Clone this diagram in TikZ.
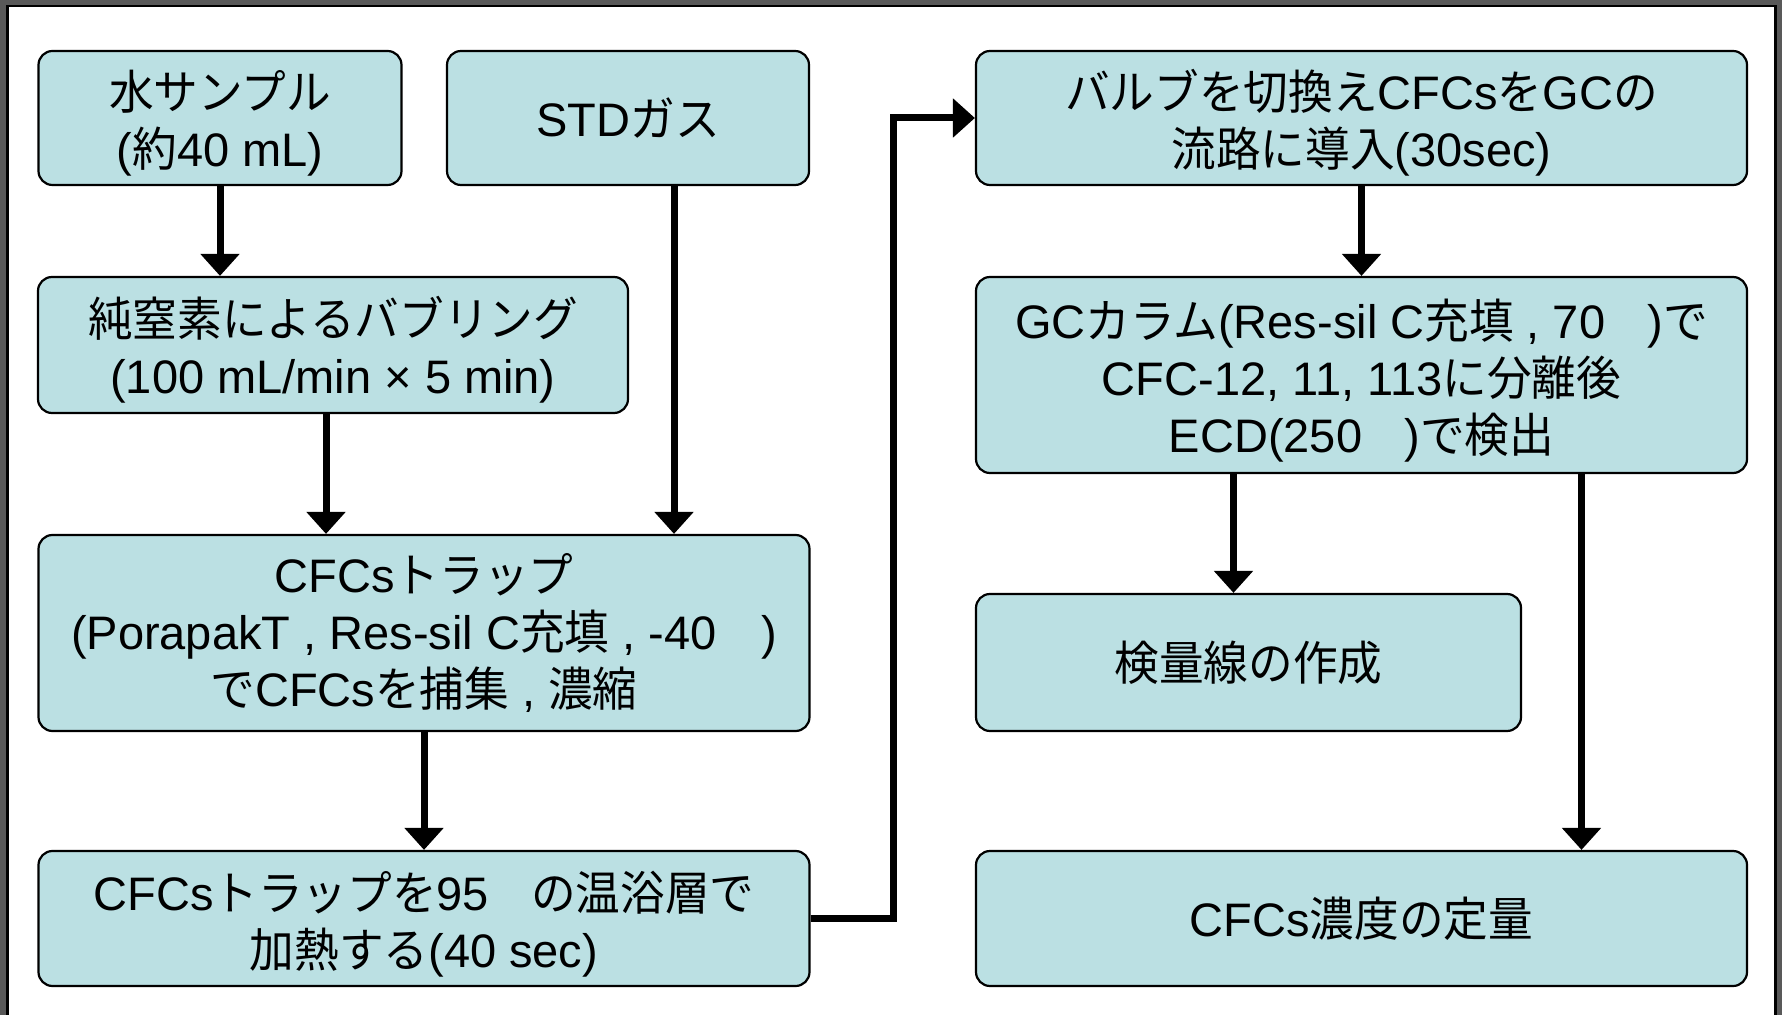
\documentclass[tikz,border=0pt]{standalone}
\usepackage{fontspec}
\setmainfont{Liberation Sans}
\newfontfamily\jp[FakeStretch=0.95]{Noto Sans CJK JP}
\usetikzlibrary{arrows.meta}
\definecolor{boxfill}{HTML}{BBE0E3}
\definecolor{framegray}{HTML}{595959}
\newcommand\boxstrut{\rule{0pt}{25pt}}

\begin{document}
\begin{tikzpicture}[x=0.5pt,y=-0.5pt,>={Triangle[width=19pt,length=11pt]},line join=miter]
        \tikzstyle{stage}=[rectangle,rounded corners=7pt,draw=black,line width=1.1pt,fill=boxfill,align=center,inner sep=0pt,font=\fontsize{23.5}{28.5}\selectfont]
        \tikzstyle{flow}=[->,line width=3.5pt]
        \useasboundingbox (0,0) rectangle (1782,1015);
        \fill [framegray] (0,0) rectangle (1782,1015);
        \draw [fill=white,line width=1.3pt] (7.5,6) rectangle (1775.5,1030);

        % left column
        \node [stage, minimum width=181.5pt, minimum height=67pt] (water) at (220,118)
            {\boxstrut{\jp 水サンプル}\\({\jp 約}40 mL)};
        \node [stage, minimum width=181pt, minimum height=67pt] (std) at (628,118)
            {STD{\jp ガス}};
        \node [stage, minimum width=295pt, minimum height=68pt] (bubble) at (333,345)
            {\boxstrut{\jp 純窒素によるバブリング}\\(100 mL/min × 5 min)};
        \node [stage, minimum width=385.5pt, minimum height=98pt] (trap) at (424,633)
            {CFCs{\jp トラップ}\\(PorapakT , Res-sil C{\jp 充填} , -40\hspace{0.95em})\\{\jp で}CFCs{\jp を捕集} , {\jp 濃縮}};
        \node [stage, minimum width=385.5pt, minimum height=67.5pt] (heat) at (424,918.5)
            {\boxstrut CFCs{\jp トラップを}95\hspace{0.9em}{\jp の温浴層で}\\{\jp 加熱する}(40 sec)};

        % right column
        \node [stage, minimum width=385.5pt, minimum height=67pt] (valve) at (1361.5,118)
            {\boxstrut{\jp バルブを切換え}CFCs{\jp を}GC{\jp の}\\{\jp 流路に導入}(30sec)};
        \node [stage, minimum width=385.5pt, minimum height=98pt] (column) at (1361.5,375)
            {\boxstrut GC{\jp カラム}(Res-sil C{\jp 充填} , 70\hspace{0.9em}){\jp で}\\CFC-12, 11, 113{\jp に分離後}\\ECD(250\hspace{0.9em}){\jp で検出}};
        \node [stage, minimum width=272.5pt, minimum height=68.5pt] (calib) at (1248.5,662.5)
            {{\jp 検量線の作成}};
        \node [stage, minimum width=385.5pt, minimum height=67.5pt] (quant) at (1361.5,918.5)
            {CFCs{\jp 濃度の定量}};

        \coordinate (trap in) at ([xshift=-3.5pt]bubble.south);
        \coordinate (std out) at ([xshift=23pt]std.south);
        \coordinate (calib in) at ([xshift=-7.5pt]calib.north);
        \coordinate (quant in) at ([xshift=110pt]quant.north);

        \draw [flow] (water.south) -- (water.south |- bubble.north);
        \draw [flow] (trap in) -- (trap in |- trap.north);
        \draw [flow] (std out) -- (std out |- trap.north);
        \draw [flow] (trap.south) -- (heat.north);
        \draw [flow] (heat.east) -- ++(83,0) |- (valve.west);
        \draw [flow] (valve.south) -- (column.north);
        \draw [flow] (calib in |- column.south) -- (calib in);
        \draw [flow] (quant in |- column.south) -- (quant in);
\end{tikzpicture}
\end{document}
